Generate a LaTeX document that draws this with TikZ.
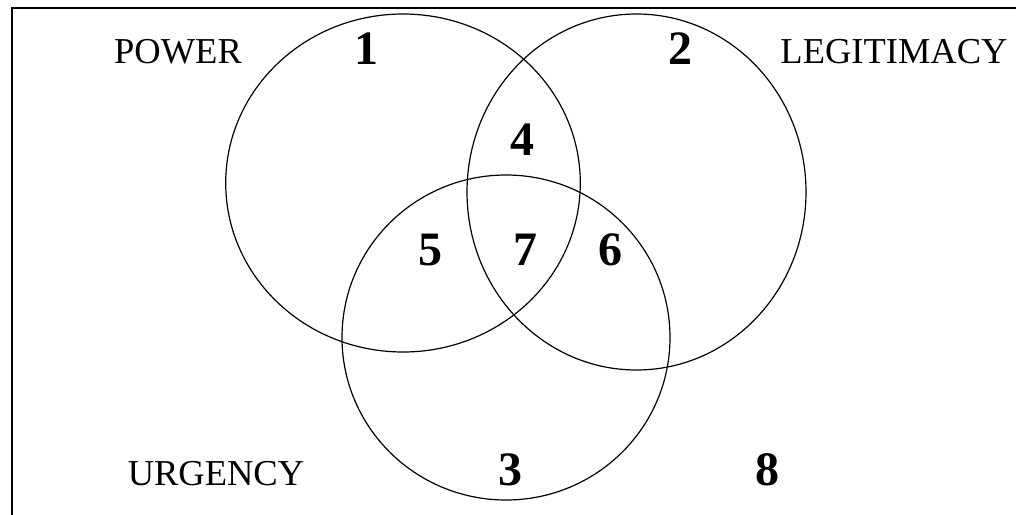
\documentclass[tikz,border=0pt]{standalone}
\usepackage{fontspec}
\setmainfont{Liberation Serif}
\usetikzlibrary{positioning}

\begin{document}
\begin{tikzpicture}[x=1pt,y=-1pt,
 lbl/.style={anchor=base,inner sep=0pt,font=\fontsize{36.5}{40}\selectfont},
 num/.style={anchor=base,inner sep=0pt,font=\fontsize{48}{52}\selectfont\bfseries},
 ring/.style={draw=black,line width=1.2pt}]
\useasboundingbox (0,0) rectangle (1016,514);
\clip (0,0) rectangle (1016,514);
\draw[line width=2pt] (11.5,7.5) rectangle (1030,530);
% the three sets
\draw[ring] (403,183) ellipse [x radius=177.3,y radius=169];
\draw[ring] (636.5,192) ellipse [x radius=169.5,y radius=178];
\draw[ring] (506,337.5) ellipse [x radius=164,y radius=162.5];
% set names
\node[lbl] (pow) at (178,63) {POWER};
\node[lbl] (leg) at (894,63) {LEGITIMACY};
\node[lbl] (urg) at (216,485) {URGENCY};
% regions
\node[num] (r1) at (366,64) {1};
\node[num] (r2) at (680,64) {2};
\node[num] (r3) at (510,485) {3};
\node[num] (r4) at (522.5,155) {4};
\node[num] (r5) at (430,265) {5};
\node[num] (r6) at (610,265) {6};
\node[num] (r7) at (525,265) {7};
\node[num] (r8) at (767,485) {8};
\end{tikzpicture}
\end{document}
